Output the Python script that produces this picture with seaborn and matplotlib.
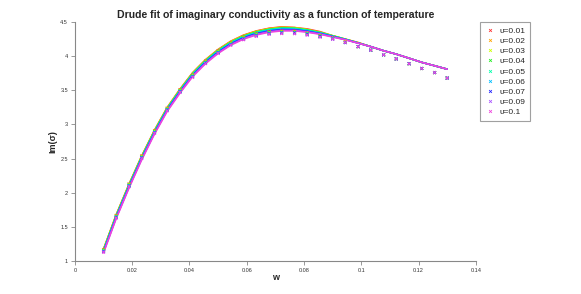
import matplotlib
matplotlib.use("Agg")
import matplotlib.pyplot as plt
import seaborn as sns
import pandas as pd

sns.set_theme(style="white")
plt.rcParams['font.family'] = ['Liberation Sans', 'DejaVu Sans']

w = [0.0100, 0.0144, 0.0189, 0.0233, 0.0278, 0.0322, 0.0367, 0.0411, 0.0456, 0.0500,
     0.0544, 0.0589, 0.0633, 0.0678, 0.0722, 0.0767, 0.0811, 0.0856, 0.0900, 0.0944,
     0.0989, 0.1033, 0.1078, 0.1122, 0.1167, 0.1211, 0.1256, 0.1300]

temps = ["0.01", "0.02", "0.03", "0.04", "0.05", "0.06", "0.07", "0.09", "0.1"]
colors = ['#ff3333', '#ffa500', '#ccff00', '#22ee22', '#00ffaa',
          '#00bfff', '#2222ff', '#aa55ff', '#ee44dd']

# measured Im(sigma), one list per temperature
data_001 = [1.17, 1.67, 2.13, 2.54, 2.91, 3.24, 3.51, 3.73, 3.93, 4.08, 4.20, 4.28, 4.33, 4.36,
            4.37, 4.37, 4.34, 4.30, 4.27, 4.21, 4.14, 4.09, 4.02, 3.96, 3.89, 3.82, 3.76, 3.68]
data_002 = [1.165, 1.665, 2.125, 2.535, 2.905, 3.235, 3.505, 3.725, 3.925, 4.075, 4.195, 4.275, 4.325, 4.355,
            4.365, 4.36, 4.34, 4.30, 4.26, 4.21, 4.14, 4.09, 4.02, 3.96, 3.89, 3.82, 3.76, 3.68]
data_003 = [1.16, 1.66, 2.12, 2.53, 2.90, 3.23, 3.50, 3.72, 3.92, 4.07, 4.19, 4.27, 4.32, 4.35,
            4.36, 4.36, 4.33, 4.30, 4.26, 4.21, 4.14, 4.09, 4.02, 3.96, 3.89, 3.82, 3.76, 3.68]
data_004 = [1.155, 1.655, 2.115, 2.525, 2.895, 3.225, 3.495, 3.715, 3.915, 4.065, 4.185, 4.265, 4.315, 4.345,
            4.355, 4.35, 4.33, 4.30, 4.26, 4.20, 4.14, 4.09, 4.02, 3.96, 3.89, 3.82, 3.76, 3.68]
data_005 = [1.15, 1.65, 2.11, 2.52, 2.89, 3.22, 3.49, 3.71, 3.91, 4.06, 4.18, 4.26, 4.31, 4.34,
            4.35, 4.35, 4.33, 4.29, 4.26, 4.20, 4.14, 4.09, 4.02, 3.96, 3.89, 3.82, 3.76, 3.68]
data_006 = [1.145, 1.645, 2.105, 2.515, 2.885, 3.215, 3.485, 3.705, 3.905, 4.055, 4.175, 4.255, 4.305, 4.335,
            4.345, 4.34, 4.32, 4.29, 4.26, 4.20, 4.14, 4.09, 4.02, 3.96, 3.89, 3.82, 3.76, 3.68]
data_007 = [1.14, 1.64, 2.10, 2.51, 2.88, 3.21, 3.48, 3.70, 3.90, 4.05, 4.17, 4.25, 4.30, 4.33,
            4.34, 4.34, 4.32, 4.29, 4.25, 4.20, 4.14, 4.09, 4.02, 3.96, 3.89, 3.82, 3.76, 3.68]
data_009 = [1.135, 1.635, 2.095, 2.505, 2.875, 3.205, 3.475, 3.695, 3.895, 4.045, 4.165, 4.245, 4.295, 4.325,
            4.335, 4.33, 4.31, 4.28, 4.25, 4.20, 4.14, 4.09, 4.02, 3.96, 3.89, 3.82, 3.76, 3.68]
data_010 = [1.13, 1.63, 2.09, 2.50, 2.87, 3.20, 3.47, 3.69, 3.89, 4.04, 4.16, 4.24, 4.29, 4.32,
            4.33, 4.33, 4.31, 4.28, 4.25, 4.20, 4.14, 4.09, 4.02, 3.96, 3.89, 3.82, 3.76, 3.68]

# Drude fit curves
fit_001 = [1.18, 1.68, 2.13, 2.54, 2.92, 3.25, 3.52, 3.76, 3.95, 4.10, 4.22, 4.31, 4.37, 4.41,
           4.43, 4.42, 4.40, 4.36, 4.30, 4.25, 4.20, 4.14, 4.08, 4.03, 3.97, 3.91, 3.86, 3.81]
fit_002 = [1.175, 1.675, 2.125, 2.535, 2.915, 3.245, 3.515, 3.755, 3.945, 4.095, 4.215, 4.305, 4.365, 4.405,
           4.425, 4.42, 4.39, 4.35, 4.30, 4.25, 4.20, 4.14, 4.08, 4.03, 3.97, 3.91, 3.86, 3.81]
fit_003 = [1.17, 1.67, 2.12, 2.53, 2.91, 3.24, 3.51, 3.75, 3.94, 4.09, 4.21, 4.30, 4.36, 4.40,
           4.42, 4.415, 4.39, 4.35, 4.30, 4.25, 4.195, 4.14, 4.08, 4.03, 3.97, 3.91, 3.86, 3.81]
fit_004 = [1.165, 1.665, 2.115, 2.525, 2.905, 3.235, 3.505, 3.745, 3.935, 4.085, 4.205, 4.295, 4.355, 4.395,
           4.415, 4.41, 4.386, 4.347, 4.298, 4.249, 4.194, 4.14, 4.08, 4.03, 3.97, 3.91, 3.86, 3.81]
fit_005 = [1.16, 1.66, 2.11, 2.52, 2.90, 3.23, 3.50, 3.74, 3.93, 4.08, 4.20, 4.29, 4.35, 4.39,
           4.41, 4.406, 4.382, 4.344, 4.296, 4.248, 4.194, 4.14, 4.08, 4.03, 3.97, 3.91, 3.86, 3.81]
fit_006 = [1.15, 1.65, 2.10, 2.51, 2.89, 3.22, 3.49, 3.73, 3.92, 4.07, 4.19, 4.28, 4.34, 4.38,
           4.40, 4.397, 4.374, 4.338, 4.292, 4.246, 4.193, 4.14, 4.08, 4.03, 3.97, 3.91, 3.86, 3.81]
fit_007 = [1.14, 1.64, 2.09, 2.50, 2.88, 3.21, 3.48, 3.72, 3.91, 4.06, 4.18, 4.27, 4.33, 4.37,
           4.39, 4.388, 4.366, 4.332, 4.288, 4.244, 4.192, 4.14, 4.08, 4.03, 3.97, 3.91, 3.86, 3.81]
fit_009 = [1.13, 1.63, 2.08, 2.49, 2.87, 3.20, 3.47, 3.71, 3.90, 4.05, 4.17, 4.26, 4.32, 4.36,
           4.38, 4.379, 4.358, 4.326, 4.284, 4.242, 4.191, 4.14, 4.08, 4.03, 3.97, 3.91, 3.86, 3.81]
fit_010 = [1.12, 1.62, 2.07, 2.48, 2.86, 3.19, 3.46, 3.70, 3.89, 4.04, 4.16, 4.25, 4.31, 4.35,
           4.37, 4.37, 4.35, 4.32, 4.28, 4.24, 4.19, 4.14, 4.08, 4.03, 3.97, 3.91, 3.86, 3.81]

data_lists = [data_001, data_002, data_003, data_004, data_005, data_006, data_007, data_009, data_010]
fit_lists = [fit_001, fit_002, fit_003, fit_004, fit_005, fit_006, fit_007, fit_009, fit_010]

labels = ["\u03c5=" + t for t in temps]
rows = []
for lab, d, f in zip(labels, data_lists, fit_lists):
    for wi, di, fi in zip(w, d, f):
        rows.append({"w": wi, "data": di, "fit": fi, "label": lab})
df = pd.DataFrame(rows)
palette = dict(zip(labels, colors))

fig = plt.figure(figsize=(5.81, 2.94), dpi=100)
ax = fig.add_axes([0.129, 0.112, 0.690, 0.813])

sns.lineplot(data=df, x="w", y="fit", hue="label", hue_order=labels, palette=palette,
             linewidth=1.1, legend=False, ax=ax, sort=False)
sns.scatterplot(data=df, x="w", y="data", hue="label", hue_order=labels, palette=palette,
                marker="x", s=4, linewidth=0.6, ax=ax, zorder=3)

ax.set_xlim(0, 0.14)
ax.set_ylim(1, 4.5)
ax.set_xticks([0, 0.02, 0.04, 0.06, 0.08, 0.1, 0.12, 0.14])
ax.set_xticklabels(["0", "0.02", "0.04", "0.06", "0.08", "0.1", "0.12", "0.14"])
ax.set_yticks([1, 1.5, 2, 2.5, 3, 3.5, 4, 4.5])
ax.set_yticklabels(["1", "1.5", "2", "2.5", "3", "3.5", "4", "4.5"])
ax.tick_params(direction="out", length=3, width=0.6, colors="#888888", labelsize=4,
               labelcolor="#333333", pad=2, bottom=True, left=True)
for side in ["top", "right"]:
    ax.spines[side].set_visible(False)
for side in ["left", "bottom"]:
    ax.spines[side].set_color("#888888")
    ax.spines[side].set_linewidth(0.8)

ax.set_xlabel("w", fontsize=6.5, fontweight="bold", labelpad=0)
ax.set_ylabel("Im(\u03c3)", fontsize=6.5, fontweight="bold")
ax.yaxis.set_label_coords(-0.045, 0.5)
ax.set_title("Drude fit of imaginary conductivity as a function of temperature",
             fontsize=7.6, fontweight="bold", pad=3)

handles, labs = ax.get_legend_handles_labels()
leg = ax.legend(handles, labs, loc="upper left", bbox_to_anchor=(1.01, 1.0), fontsize=6,
                frameon=True, fancybox=False, edgecolor="#888888", borderpad=0.6,
                labelspacing=0.28, handletextpad=0.5, handlelength=1.2, borderaxespad=0)
leg.get_frame().set_linewidth(0.8)

fig.savefig("out.png", dpi=100)
